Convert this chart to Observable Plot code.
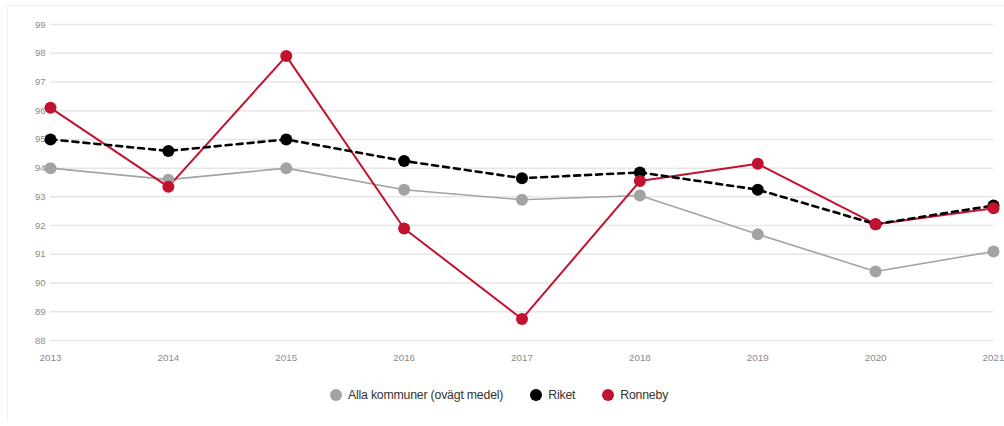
<!DOCTYPE html>
<html><head><meta charset="utf-8">
<script src="https://cdn.jsdelivr.net/npm/d3@7"></script>
<script src="https://cdn.jsdelivr.net/npm/@observablehq/plot@0.6"></script>
<style>
html,body{margin:0;padding:0;background:#fff;font-family:"Liberation Sans",Arial,sans-serif;overflow:hidden;}
#frame{position:absolute;left:7px;top:5px;width:1010px;height:416px;border-left:1px solid #f0f0f0;border-top:1px solid #f0f0f0;}
#chart{position:absolute;left:0;top:0;}
#legend{position:absolute;top:387px;left:330px;display:flex;align-items:center;font-size:12.3px;letter-spacing:-0.2px;color:#333;height:16px;}
#legend .it{display:flex;align-items:center;margin-right:27px;}
#legend .dot{width:12px;height:12px;border-radius:50%;margin-right:6px;display:inline-block;}
</style></head>
<body>
<div id="frame"></div>
<div id="chart"></div>
<div id="legend"></div>
<script>
const years = [2013, 2014, 2015, 2016, 2017, 2018, 2019, 2020, 2021];
const alla = [94.0, 93.6, 94.0, 93.25, 92.9, 93.05, 91.7, 90.4, 91.1];
const riket = [95.0, 94.6, 95.0, 94.25, 93.65, 93.85, 93.25, 92.05, 92.7];
const ronneby = [96.1, 93.35, 97.9, 91.9, 88.75, 93.55, 94.15, 92.05, 92.6];
const yTicks = [88, 89, 90, 91, 92, 93, 94, 95, 96, 97, 98, 99];
const seriesNames = ["Alla kommuner (ovägt medel)", "Riket", "Ronneby"];
const seriesColors = ["#a3a3a3", "#000000", "#c3122f"];

const rows = (vals, name) => years.map((y, i) => ({year: y, value: vals[i], series: name}));
const dAlla = rows(alla, seriesNames[0]);
const dRiket = rows(riket, seriesNames[1]);
const dRonneby = rows(ronneby, seriesNames[2]);

const chart = Plot.plot({
  width: 1004,
  height: 372,
  marginLeft: 50,
  marginRight: 11,
  marginTop: 24,
  marginBottom: 32,
  style: {fontFamily: '"Liberation Sans", Arial, sans-serif', background: "transparent"},
  x: {domain: [2013, 2021]},
  y: {domain: [88, 99]},
  marks: [
    Plot.gridY(yTicks, {stroke: "#e6e6e6", strokeOpacity: 1, strokeWidth: 1.5}),
    Plot.axisY(yTicks, {tickSize: 0, tickPadding: 5, fill: "#8a8a8a", fontSize: 9.5, label: null}),
    Plot.axisX(years, {tickSize: 0, tickPadding: 14, fill: "#8a8a8a", fontSize: 9.8, tickFormat: "d", label: null}),
    Plot.line(dAlla, {x: "year", y: "value", stroke: seriesColors[0], strokeWidth: 1.6}),
    Plot.line(dRonneby, {x: "year", y: "value", stroke: seriesColors[2], strokeWidth: 2}),
    Plot.line(dRiket, {x: "year", y: "value", stroke: seriesColors[1], strokeWidth: 2.6, strokeDasharray: "6,5"}),
    Plot.dot(dAlla, {x: "year", y: "value", r: 6, fill: seriesColors[0]}),
    Plot.dot(dRiket, {x: "year", y: "value", r: 6, fill: seriesColors[1]}),
    Plot.dot(dRonneby, {x: "year", y: "value", r: 6, fill: seriesColors[2]})
  ]
});
document.getElementById("chart").appendChild(chart);

const leg = document.getElementById("legend");
seriesNames.forEach((n, i) => {
  const it = document.createElement("span");
  it.className = "it";
  const d = document.createElement("span");
  d.className = "dot";
  d.style.background = seriesColors[i];
  it.appendChild(d);
  it.appendChild(document.createTextNode(n));
  leg.appendChild(it);
});
</script>
</body></html>
